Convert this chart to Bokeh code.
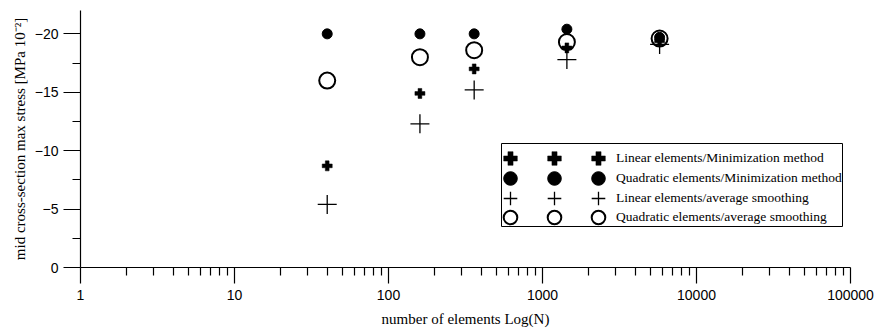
from bokeh.plotting import figure
from bokeh.models import (Range1d, FixedTicker, BasicTickFormatter, Legend,
                          LegendItem, BoxAnnotation)
from bokeh.embed import file_html
from bokeh.resources import INLINE

# ---- data ----
n_elements = [40, 160, 360, 1440, 5760]
linear_minimization = [-8.7, -14.9, -17.0, -18.8, -19.4]
quadratic_minimization = [-20.0, -20.0, -20.0, -20.4, -19.7]
linear_average = [-5.4, -12.3, -15.2, -17.8, -19.1]
quadratic_average = [-16.0, -18.0, -18.6, -19.3, -19.6]

series_labels = [
    "Linear elements/Minimization method",
    "Quadratic elements/Minimization method",
    "Linear elements/average smoothing",
    "Quadratic elements/average smoothing",
]

x_major_ticks = [1, 10, 100, 1000, 10000, 100000]
x_minor_multipliers = [2, 3, 4, 5, 6, 7, 8, 9]
y_major_ticks = [0, -5, -10, -15, -20]
y_minor_ticks = [-2.5, -7.5, -12.5, -17.5]

x_title = "number of elements Log(N)"
y_title = "mid cross-section max stress [MPa 10\u207b\u00b2]"

p = figure(width=876, height=331, x_axis_type="log",
           x_range=Range1d(1, 100000), y_range=Range1d(0, -22),
           output_backend="svg", toolbar_location=None,
           min_border_left=80, min_border_right=26,
           min_border_top=10, min_border_bottom=64)
p.outline_line_color = None
p.grid.visible = False
p.background_fill_color = "white"
p.border_fill_color = "white"

r_qavg = p.scatter(n_elements, quadratic_average, marker="circle", size=16,
                   fill_color=None, line_color="black", line_width=2)
r_qmin = p.scatter(n_elements, quadratic_minimization, marker="circle", size=10,
                   fill_color="black", line_color="black")
r_lmin = p.scatter(n_elements, linear_minimization, marker="plus", size=10,
                   fill_color="black", line_color="black", line_width=0.5)
r_lavg = p.scatter(n_elements, linear_average, marker="cross", size=19,
                   line_color="black", line_width=1.3)

renderers = [r_lmin, r_qmin, r_lavg, r_qavg]

# ---- axes ----
xaxis = p.xaxis[0]
x_minor = [m * d for d in x_major_ticks[:-1] for m in x_minor_multipliers]
xaxis.ticker = FixedTicker(ticks=x_major_ticks, minor_ticks=x_minor)
xaxis.formatter = BasicTickFormatter(use_scientific=False)
yaxis = p.yaxis[0]
yaxis.ticker = FixedTicker(ticks=y_major_ticks, minor_ticks=y_minor_ticks)

for ax in (xaxis, yaxis):
    ax.axis_line_color = "black"
    ax.axis_line_width = 1.2
    ax.major_tick_line_color = "black"
    ax.major_tick_line_width = 1.2
    ax.minor_tick_line_color = "black"
    ax.minor_tick_line_width = 1.2
    ax.major_tick_in = 0
    ax.minor_tick_in = 0
    ax.major_label_text_font = "Liberation Sans"
    ax.major_label_text_font_size = "14px"
    ax.major_label_text_color = "black"
    ax.axis_label_text_font = "Liberation Serif"
    ax.axis_label_text_font_size = "15px"
    ax.axis_label_text_font_style = "normal"
    ax.axis_label_text_color = "black"

xaxis.major_tick_out = 16
xaxis.minor_tick_out = 8
xaxis.major_label_standoff = 6
xaxis.axis_label = x_title
xaxis.axis_label_standoff = 8

yaxis.major_tick_out = 17
yaxis.minor_tick_out = 8
yaxis.major_label_standoff = 5
yaxis.axis_label = y_title
yaxis.axis_label_standoff = 4

# ---- legend (box + one horizontal legend per row, three samples each) ----
box = BoxAnnotation(left=421, right=762, bottom=41, top=124,
                    left_units="screen", right_units="screen",
                    top_units="screen", bottom_units="screen",
                    fill_color="white", fill_alpha=1.0,
                    line_color="black", line_alpha=1.0, line_width=1)
p.add_layout(box, "center")

row_bottoms = [92, 72, 52, 33]
for lab, r, yb in zip(series_labels, renderers, row_bottoms):
    items = [LegendItem(label="", renderers=[r]),
             LegendItem(label="", renderers=[r]),
             LegendItem(label=lab, renderers=[r])]
    leg = Legend(items=items, location=(413, yb), orientation="horizontal",
                 glyph_width=34, glyph_height=34, spacing=9,
                 padding=0, margin=0, border_line_color=None,
                 background_fill_alpha=0,
                 label_text_font="Liberation Serif",
                 label_text_font_size="13.5px", label_text_color="black",
                 label_standoff=1, label_width=0, label_height=20)
    p.add_layout(leg, "center")

open("out.html", "w").write(file_html(p, INLINE))
